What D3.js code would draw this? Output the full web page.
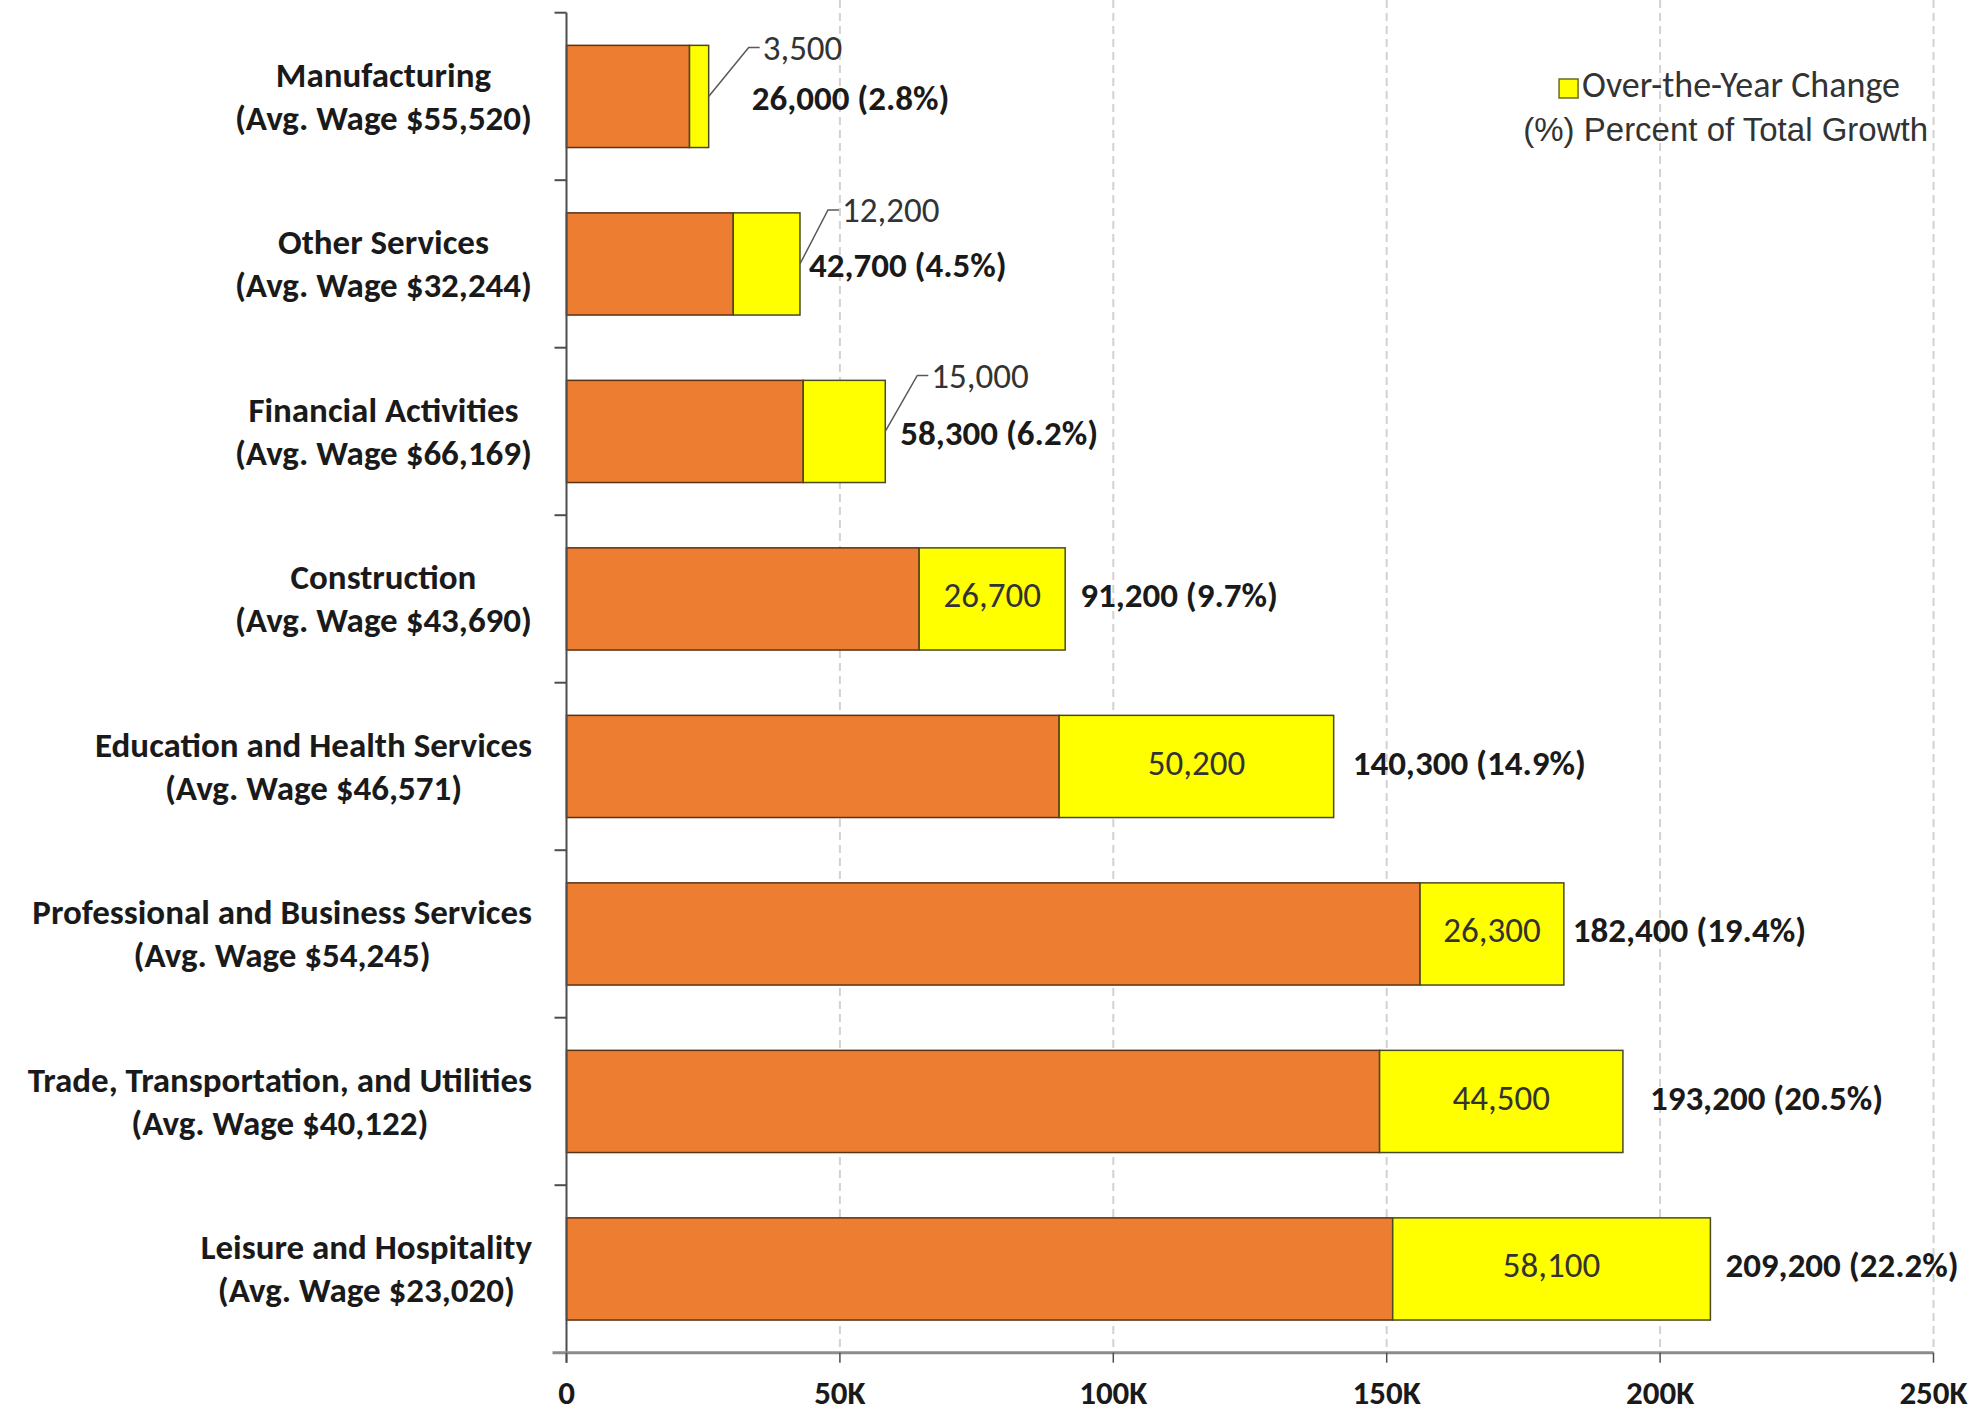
<!DOCTYPE html>
<html>
<head>
<meta charset="utf-8">
<script src="https://cdn.jsdelivr.net/npm/d3@7"></script>
<style>
  html, body { margin: 0; padding: 0; background: #ffffff; }
  svg { display: block; }
</style>
</head>
<body>
<svg id="chart" width="1976" height="1412"></svg>
<script>
// ---------------- DATA ----------------
const categories = [
  "Manufacturing",
  "Other Services",
  "Financial Activities",
  "Construction",
  "Education and Health Services",
  "Professional and Business Services",
  "Trade, Transportation, and Utilities",
  "Leisure and Hospitality"
];
const avgWages = ["$55,520", "$32,244", "$66,169", "$43,690", "$46,571", "$54,245", "$40,122", "$23,020"];
const totalGrowth = [26000, 42700, 58300, 91200, 140300, 182400, 193200, 209200];
const overYearChange = [3500, 12200, 15000, 26700, 50200, 26300, 44500, 58100];
const pctOfTotal = [2.8, 4.5, 6.2, 9.7, 14.9, 19.4, 20.5, 22.2];
const xTickValues = [0, 50000, 100000, 150000, 200000, 250000];
const xTickLabels = ["0", "50K", "100K", "150K", "200K", "250K"];
const legendLabels = ["Over-the-Year Change", "(%) Percent of Total Growth"];

// ---------------- LAYOUT (not data) ----------------
const totalLabelDx = [43, 9, 15, 15, 19, 9, 27, 15];
const calloutIdx = [0, 1, 2];
const changeLabelDx = [54, 42, 46];
const changeLabelDy = [-45, -50, -52];

const svg = d3.select("#chart");
const FONT = "Carlito, Calibri, Lato, 'Open Sans', sans-serif";
const LABEL_SIZE = 35;

const x = d3.scaleLinear().domain([0, 250000]).range([566.5, 1933.5]);
const y = d3.scaleBand().domain(categories).range([12.7, 1352.7])
  .paddingInner(0.39).paddingOuter(0.195);
const step = y.step();
const bw = y.bandwidth();
const axisY = 1352.7;

const rows = categories.map((c, i) => ({
  cat: c, i,
  wage: avgWages[i],
  total: totalGrowth[i],
  change: overYearChange[i],
  base: totalGrowth[i] - overYearChange[i],
  pct: pctOfTotal[i]
}));

// ---------- gridlines ----------
svg.append("g").selectAll("line")
  .data(xTickValues.filter(v => v > 0))
  .join("line")
  .attr("x1", d => x(d)).attr("x2", d => x(d))
  .attr("y1", 0).attr("y2", axisY)
  .attr("stroke", "#d2d2d2")
  .attr("stroke-width", 2)
  .attr("stroke-dasharray", "8,5");

// ---------- bars ----------
const barG = svg.append("g");
barG.selectAll("rect.base")
  .data(rows).join("rect")
  .attr("class", "base")
  .attr("x", d => x(0))
  .attr("y", d => y(d.cat))
  .attr("width", d => x(d.base) - x(0))
  .attr("height", bw)
  .attr("fill", "#ED7D31")
  .attr("stroke", "#5a3214")
  .attr("stroke-width", 1.5);

barG.selectAll("rect.chg")
  .data(rows).join("rect")
  .attr("class", "chg")
  .attr("x", d => x(d.base))
  .attr("y", d => y(d.cat))
  .attr("width", d => x(d.total) - x(d.base))
  .attr("height", bw)
  .attr("fill", "#FFFF00")
  .attr("stroke", "#4a4a22")
  .attr("stroke-width", 1.5);

// ---------- axes ----------
const axG = svg.append("g").attr("stroke", "#4d4d4d");
axG.append("line")
  .attr("x1", x(0)).attr("x2", x(0))
  .attr("y1", y.range()[0]).attr("y2", axisY + 10)
  .attr("stroke-width", 2);
const bounds = categories.map(c => y(c) - (y.paddingInner() * step) / 2);
bounds[0] = y.range()[0];
axG.selectAll("line.yt")
  .data(bounds).join("line")
  .attr("class", "yt")
  .attr("x1", x(0) - 12).attr("x2", x(0))
  .attr("y1", d => d).attr("y2", d => d)
  .attr("stroke-width", 2);
axG.append("line")
  .attr("x1", x(0) - 14).attr("x2", x(250000))
  .attr("y1", axisY).attr("y2", axisY)
  .attr("stroke", "#8c8c8c")
  .attr("stroke-width", 3);
axG.selectAll("line.xt")
  .data(xTickValues).join("line")
  .attr("class", "xt")
  .attr("x1", d => x(d)).attr("x2", d => x(d))
  .attr("y1", axisY).attr("y2", axisY + 10)
  .attr("stroke-width", 1.5);

svg.append("g").selectAll("text")
  .data(xTickValues).join("text")
  .attr("x", d => x(d))
  .attr("y", 1396)
  .attr("text-anchor", "middle")
  .attr("dominant-baseline", "middle")
  .attr("font-family", FONT)
  .attr("font-weight", 700)
  .attr("font-size", 33)
  .attr("fill", "#1a1a1a")
  .text((d, i) => xTickLabels[i]);

// ---------- category labels ----------
const labG = svg.append("g");
rows.forEach(d => {
  const cy = y(d.cat) + bw / 2;
  const g = labG.append("g");
  const t1 = g.append("text").attr("y", cy - 18).text(d.cat);
  const t2 = g.append("text").attr("y", cy + 25).text("(Avg. Wage " + d.wage + ")");
  g.selectAll("text")
    .attr("font-family", FONT)
    .attr("font-weight", 700)
    .attr("font-size", LABEL_SIZE)
    .attr("fill", "#1a1a1a")
    .attr("dominant-baseline", "middle")
    .attr("text-anchor", "middle");
  const w = Math.max(t1.node().getComputedTextLength(), t2.node().getComputedTextLength());
  const right = 532;
  g.selectAll("text").attr("x", right - w / 2);
});

// ---------- value labels ----------
const fmt = d3.format(",");
const valG = svg.append("g");
rows.forEach(d => {
  const cy = y(d.cat) + bw / 2;
  const xe = x(d.total);
  const isCallout = calloutIdx.indexOf(d.i) >= 0;
  valG.append("text")
    .attr("x", xe + totalLabelDx[d.i])
    .attr("y", isCallout ? cy + 5 : cy)
    .attr("dominant-baseline", "middle")
    .attr("font-family", FONT)
    .attr("font-weight", 700)
    .attr("font-size", LABEL_SIZE)
    .attr("fill", "#1a1a1a")
    .text(fmt(d.total) + " (" + d3.format(".1f")(d.pct) + "%)");

  if (isCallout) {
    const k = calloutIdx.indexOf(d.i);
    const lx = xe + changeLabelDx[k];
    const ly = cy + changeLabelDy[k];
    valG.append("path")
      .attr("d", d3.line()([[xe, cy], [lx - 14, ly - 4], [lx - 3, ly - 4]]))
      .attr("fill", "none")
      .attr("stroke", "#595959")
      .attr("stroke-width", 1.5);
    valG.append("text")
      .attr("x", lx)
      .attr("y", ly)
      .attr("dominant-baseline", "middle")
      .attr("font-family", FONT)
      .attr("font-size", LABEL_SIZE)
      .attr("fill", "#333333")
      .text(fmt(d.change));
  } else {
    valG.append("text")
      .attr("x", (x(d.base) + xe) / 2)
      .attr("y", cy)
      .attr("text-anchor", "middle")
      .attr("dominant-baseline", "middle")
      .attr("font-family", FONT)
      .attr("font-size", LABEL_SIZE)
      .attr("fill", "#333333")
      .text(fmt(d.change));
  }
});

// ---------- legend ----------
const lg = svg.append("g");
const lt1 = lg.append("text")
  .attr("x", 1900).attr("y", 88)
  .attr("text-anchor", "end")
  .attr("dominant-baseline", "middle")
  .attr("font-family", FONT)
  .attr("font-size", 36)
  .attr("fill", "#333333")
  .text(legendLabels[0]);
const lw = lt1.node().getComputedTextLength();
lg.append("rect")
  .attr("x", 1900 - lw - 23).attr("y", 79)
  .attr("width", 19).attr("height", 19)
  .attr("fill", "#FFFF00")
  .attr("stroke", "#6b6b2a")
  .attr("stroke-width", 1.5);
lg.append("text")
  .attr("x", 1928).attr("y", 132)
  .attr("text-anchor", "end")
  .attr("dominant-baseline", "middle")
  .attr("font-family", "'Liberation Sans', Arial, sans-serif")
  .attr("font-size", 33)
  .attr("fill", "#333333")
  .text(legendLabels[1]);
</script>
</body>
</html>
